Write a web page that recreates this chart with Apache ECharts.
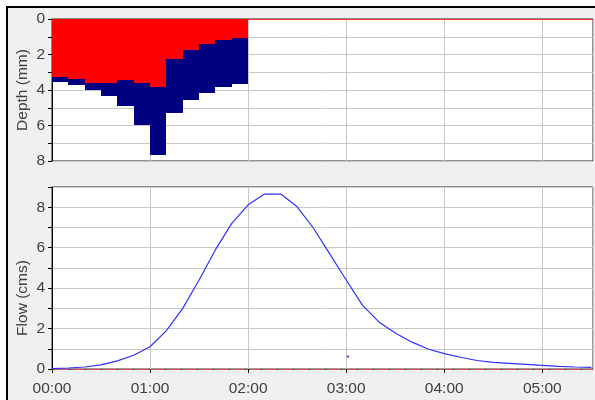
<!DOCTYPE html>
<html>
<head>
<meta charset="utf-8">
<script src="https://cdn.jsdelivr.net/npm/echarts@6/dist/echarts.min.js"></script>
<style>
    body { margin: 0; background: #fff; }
    #frame {
        position: absolute; left: 6px; top: 6px; width: 600px; height: 400px;
        border-left: 2px solid #000; border-top: 2px solid #000;
        background: #f0f0f0;
    }
    #chart { position: absolute; left: 0; top: 0; width: 595px; height: 400px; }
</style>
</head>
<body>
<div id="frame"></div>
<div id="chart"></div>
<script>
    // hyetograph, 10 minute blocks (start minute)
    const blockStart = [0, 10, 20, 30, 40, 50, 60, 70, 80, 90, 100, 110];
    const blockMinutes = 10;
    const lossDepth  = [3.25, 3.40, 3.62, 3.62, 3.46, 3.62, 3.85, 2.25, 1.75, 1.39, 1.18, 1.09];
    const totalDepth = [3.57, 3.74, 4.00, 4.34, 4.90, 5.99, 7.64, 5.31, 4.56, 4.19, 3.85, 3.68];

    // hydrograph (minutes, cms)
    const flowTimes = [0, 10, 20, 30, 40, 50, 60, 70, 80, 90, 100, 110, 120, 130, 140, 150, 160, 170,
        180, 190, 200, 210, 220, 230, 240, 250, 260, 270, 280, 290, 300, 310, 320, 330];
    const flowValues = [0.02, 0.05, 0.10, 0.20, 0.40, 0.68, 1.10, 1.90, 3.00, 4.40, 5.90, 7.20, 8.12, 8.65, 8.65,
        8.02, 6.96, 5.68, 4.40, 3.15, 2.33, 1.78, 1.34, 0.99, 0.76, 0.58, 0.42, 0.33, 0.28, 0.23, 0.18, 0.13, 0.10, 0.08];
    const strayPoint = [[181, 0.62]];

    const timeMax = 331;
    const textColor = '#404040';
    const gridColor = '#c8c8c8';
    const font = 'Liberation Sans, Arial, sans-serif';
    const fontSize = 15.5;

    function hhmm(v) {
        const h = Math.floor(v / 60), m = v % 60;
        return (h < 10 ? '0' : '') + h + ':' + (m < 10 ? '0' : '') + m;
    }
    function evenOnly(v) {
        return v % 2 === 0 ? String(v) : '';
    }

    const lossData = blockStart.map((t, i) => [t, t + blockMinutes, 0, lossDepth[i]]);
    const excessData = blockStart.map((t, i) => [t, t + blockMinutes, lossDepth[i], totalDepth[i]]);

    // stacked block drawn from axis coords, snapped to whole pixels so neighbours meet
    function renderBlock(params, api) {
        const p0 = api.coord([api.value(0), api.value(2)]);
        const p1 = api.coord([api.value(1), api.value(3)]);
        const x0 = Math.round(p0[0]), x1 = Math.round(p1[0]);
        const y0 = Math.round(p0[1]), y1 = Math.round(p1[1]);
        return {
            type: 'rect',
            shape: { x: x0, y: y0, width: x1 - x0, height: y1 - y0 },
            style: { fill: api.visual('color') }
        };
    }

    const yAxisBase = {
        type: 'value',
        min: 0,
        interval: 1,
        nameLocation: 'middle',
        nameMoveOverlap: false,
        axisLine: { show: true, onZero: false, lineStyle: { color: '#000' } },
        axisTick: { show: true, length: 4, lineStyle: { color: '#000' } },
        axisLabel: { fontSize: fontSize, color: textColor, fontFamily: font, margin: 7, formatter: evenOnly },
        splitLine: { lineStyle: { color: gridColor } }
    };

    const option = {
        animation: false,
        grid: [
            { left: 52, right: 2, top: 19, height: 142, show: true, backgroundColor: '#fff', borderColor: '#222' },
            { left: 52, right: 2, top: 187, height: 182, show: true, backgroundColor: '#fff', borderColor: '#333' }
        ],
        xAxis: [
            {
                gridIndex: 0, type: 'value', min: 0, max: timeMax, interval: 60,
                position: 'top',
                axisLine: { show: true, onZero: false, lineStyle: { color: '#ff3030' } },
                axisTick: { show: false },
                axisLabel: { show: false },
                splitLine: { lineStyle: { color: gridColor } }
            },
            {
                gridIndex: 1, type: 'value', min: 0, max: timeMax, interval: 60,
                axisLine: { show: true, onZero: false, lineStyle: { color: '#e05050' } },
                axisTick: { show: true, length: 4, lineStyle: { color: '#000' } },
                axisLabel: { fontSize: fontSize, color: textColor, fontFamily: font, margin: 12, formatter: hhmm,
                    showMaxLabel: false },
                splitLine: { lineStyle: { color: gridColor } }
            }
        ],
        yAxis: [
            Object.assign({}, yAxisBase, {
                gridIndex: 0, max: 8, inverse: true, name: 'Depth (mm)', nameGap: 21,
                nameTextStyle: { fontSize: fontSize, color: textColor, fontFamily: font }
            }),
            Object.assign({}, yAxisBase, {
                gridIndex: 1, max: 9, name: 'Flow (cms)', nameGap: 21,
                nameTextStyle: { fontSize: fontSize, color: textColor, fontFamily: font, padding: [0, 40, 0, 0] }
            })
        ],
        series: [
            {
                type: 'custom', xAxisIndex: 0, yAxisIndex: 0,
                renderItem: renderBlock, data: lossData,
                itemStyle: { color: '#ff0000' },
                encode: { x: [0, 1], y: [2, 3] }
            },
            {
                type: 'custom', xAxisIndex: 0, yAxisIndex: 0,
                renderItem: renderBlock, data: excessData,
                itemStyle: { color: '#000080' },
                encode: { x: [0, 1], y: [2, 3] }
            },
            {
                type: 'line', xAxisIndex: 1, yAxisIndex: 1,
                data: flowTimes.map((t, i) => [t, flowValues[i]]),
                showSymbol: false,
                lineStyle: { color: '#3030ff', width: 1.2 },
                markLine: {
                    silent: true, symbol: 'none', label: { show: false },
                    lineStyle: { color: '#555', type: [3, 13], width: 1 },
                    data: [{ yAxis: 0 }]
                }
            },
            {
                type: 'scatter', xAxisIndex: 1, yAxisIndex: 1,
                data: strayPoint, symbolSize: 2.5,
                itemStyle: { color: '#3030ff' }
            }
        ]
    };

    const chart = echarts.init(document.getElementById('chart'));
    chart.setOption(option);
</script>
</body>
</html>
